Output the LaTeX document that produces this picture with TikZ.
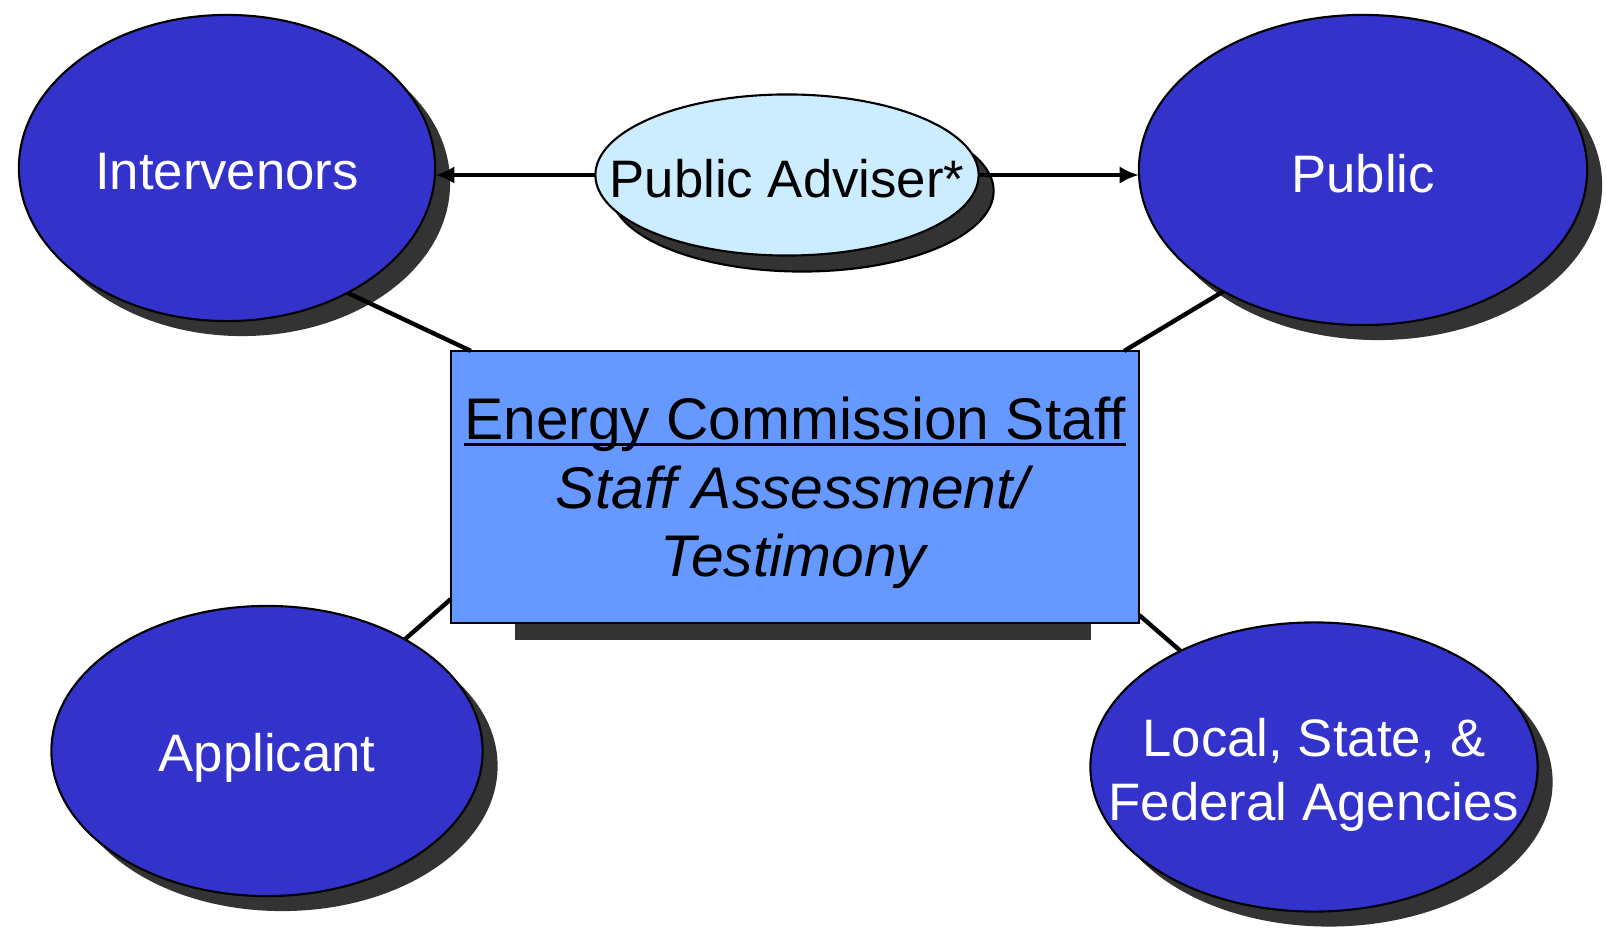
\documentclass[tikz,border=0pt]{standalone}
\usepackage{fontspec}
\setmainfont{Liberation Sans}
\usetikzlibrary{shapes.geometric,shadows,arrows.meta}

\definecolor{partyblue}{HTML}{3333CC}
\definecolor{staffblue}{HTML}{6699FF}
\definecolor{adviserblue}{HTML}{CCECFF}
\definecolor{shadowgrey}{HTML}{333333}

% underline close to the baseline
\newcommand\staffrule[1]{\setbox0=\hbox{#1}\rlap{\rule[-1.7pt]{\wd0}{0.9pt}}\box0}

\begin{document}
\begin{tikzpicture}
    [
        x=0.01cm, y=-0.01cm,
        >={Latex[length=5.5pt,width=5pt]},
        party/.style={ellipse, draw, line width=0.6pt, fill=partyblue, inner sep=0pt, outer sep=0pt,
            drop shadow={shadow xshift=0.15cm, shadow yshift=-0.15cm, fill=shadowgrey, opacity=1},},
        partytext/.style={text=white, align=center, inner sep=0pt, yshift=-0.04cm,
            font=\fontsize{15}{18}\selectfont,},
        adviser/.style={ellipse, draw, line width=0.6pt, fill=adviserblue, inner sep=0pt, outer sep=0pt,
            drop shadow={shadow xshift=0.15cm, shadow yshift=-0.16cm, fill=shadowgrey, draw=black, opacity=1},},
        staffbox/.style={rectangle, draw, line width=0.5pt, fill=staffblue, inner sep=0pt, outer sep=0pt,
            align=center, text depth=0pt, font=\fontsize{16.7}{19.5}\selectfont,},
        link/.style={line width=1.25pt,},
    ]
    \useasboundingbox (0,0) rectangle (1606,931);

    % parties
    \node (intervenors) at (227,168) [party, minimum width=4.16cm, minimum height=3.06cm,
        label={[partytext]center:Intervenors}] {};
    \node (public) at (1363,170) [party, minimum width=4.48cm, minimum height=3.10cm,
        label={[partytext]center:Public}] {};
    \node (applicant) at (267,751) [party, minimum width=4.31cm, minimum height=2.90cm,
        label={[partytext, yshift=-0.03cm]center:Applicant}] {};
    \node (agencies) at (1314,767) [party, minimum width=4.47cm, minimum height=2.89cm,
        label={[partytext, yshift=-0.04cm]center:{Local, State, \&\\Federal Agencies}}] {};

    % adviser
    \node (adviser) at (787,175) [adviser, minimum width=3.83cm, minimum height=1.61cm,
        label={[partytext, text=black]center:Public Adviser*}] {};

    \draw [->, link] (adviser.west) -- (adviser.west -| intervenors.east);
    \draw [->, link] (adviser.east) -- (adviser.east -| public.west);

    % staff
    \fill [shadowgrey] (515,600) rectangle (1091,640);
    \node (staff) at (795,487) [staffbox, minimum width=6.88cm, minimum height=2.72cm]
        {\staffrule{Energy Commission Staff}\\\textit{Staff Assessment/}\\\textit{Testimony}};

    \path [link]
    (intervenors.-46) edge ([xshift=0.2cm]staff.north west)
    (public.-139)     edge ([xshift=-0.15cm]staff.north east)
    (applicant.39)    edge ([yshift=0.24cm]staff.south west)
    (agencies.139)    edge ([yshift=0.08cm]staff.south east);

\end{tikzpicture}
\end{document}
